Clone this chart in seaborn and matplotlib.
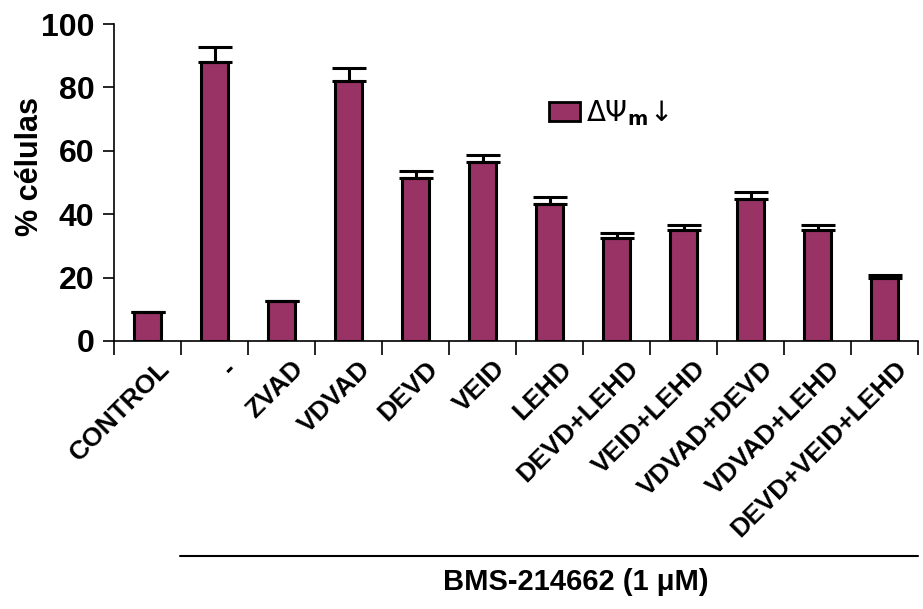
import numpy as np
import pandas as pd
import seaborn as sns
import matplotlib.pyplot as plt
import matplotlib.transforms as mtransforms
from matplotlib.ticker import FixedLocator

# data
categories = ["CONTROL", "-", "ZVAD", "VDVAD", "DEVD", "VEID", "LEHD",
              "DEVD+LEHD", "VEID+LEHD", "VDVAD+DEVD", "VDVAD+LEHD", "DEVD+VEID+LEHD"]
values = [9.1, 87.9, 12.6, 82.0, 51.3, 56.4, 43.2, 32.4, 35.0, 44.8, 35.0, 20.0]
errors = [0.0, 4.9, 0.0, 4.0, 2.4, 2.3, 2.3, 1.6, 1.5, 2.3, 1.5, 0.7]
y_ticks = [0, 20, 40, 60, 80, 100]

bar_color = "#993366"

sns.set_style("white")
plt.rcParams['font.family'] = ['Liberation Sans', 'DejaVu Sans']
# seaborn greys the text, the original is plain black
for key in ["text.color", "axes.labelcolor", "xtick.color", "ytick.color"]:
    plt.rcParams[key] = "black"

df = pd.DataFrame({"grupo": categories, "pct": values})

fig = plt.figure(figsize=(9.23, 6.09), dpi=100)
ax = fig.add_axes([114 / 923, 1 - 341 / 609, 804 / 923, 317 / 609])

sns.barplot(data=df, x="grupo", y="pct", color=bar_color, saturation=1,
            edgecolor="black", linewidth=2.2, width=0.4, ax=ax,
            label=r"$\Delta\Psi_{\mathbf{m}}\!\downarrow$")

# upward-only error bars
x = np.arange(len(categories))
ax.errorbar(x, values, yerr=[np.zeros(len(errors)), errors], fmt="none",
            ecolor="black", elinewidth=2.2, capsize=12, capthick=2.2)

ax.set_xlim(-0.5, len(categories) - 0.5)
ax.set_ylim(0, 100)
ax.set_yticks(y_ticks)
ax.set_yticklabels([str(t) for t in y_ticks], fontsize=23, fontweight="bold")

# category labels at centers, tick marks between categories
ax.set_xticks(x)
ax.set_xticklabels(categories, rotation=45, ha="right", rotation_mode="anchor",
                   fontsize=19, fontweight="bold")
ax.tick_params(axis="x", which="major", length=0, pad=4)
ax.xaxis.set_minor_locator(FixedLocator(np.arange(len(categories) + 1) - 0.5))
ax.tick_params(axis="x", which="minor", length=10, width=1.2, direction="out",
               color="black", bottom=True)
ax.tick_params(axis="y", length=8, width=1.2, direction="out", color="black",
               left=True, pad=6)
offset = mtransforms.ScaledTranslation(10 / 100, -10 / 100, fig.dpi_scale_trans)
for lbl in ax.get_xticklabels():
    lbl.set_transform(lbl.get_transform() + offset)

ax.set_xlabel("")
ax.set_ylabel("% células", fontsize=22, fontweight="bold")
ax.yaxis.set_label_coords(-0.086, 0.55)

for side in ["top", "right"]:
    ax.spines[side].set_visible(False)
for side in ["left", "bottom"]:
    ax.spines[side].set_color("black")
    ax.spines[side].set_linewidth(1.2)

leg = ax.legend(loc="upper left", bbox_to_anchor=(549 / 923, 1 - 98 / 609),
                bbox_transform=fig.transFigure, frameon=False, fontsize=20,
                borderpad=0, borderaxespad=0,
                handlelength=1.1, handleheight=0.65, handletextpad=0.25)
for h in leg.legend_handles:
    h.set_edgecolor("black")
    h.set_linewidth(2)

# group bracket below the labels
fig.add_artist(plt.Line2D([180 / 923, 918 / 923], [1 - 556 / 609, 1 - 556 / 609],
                          color="black", linewidth=1.5))
fig.text(576 / 923, 1 - 582 / 609, "BMS-214662 (1 μM)", ha="center", va="center",
         fontsize=21, fontweight="bold")

fig.savefig("out.png", dpi=100)
